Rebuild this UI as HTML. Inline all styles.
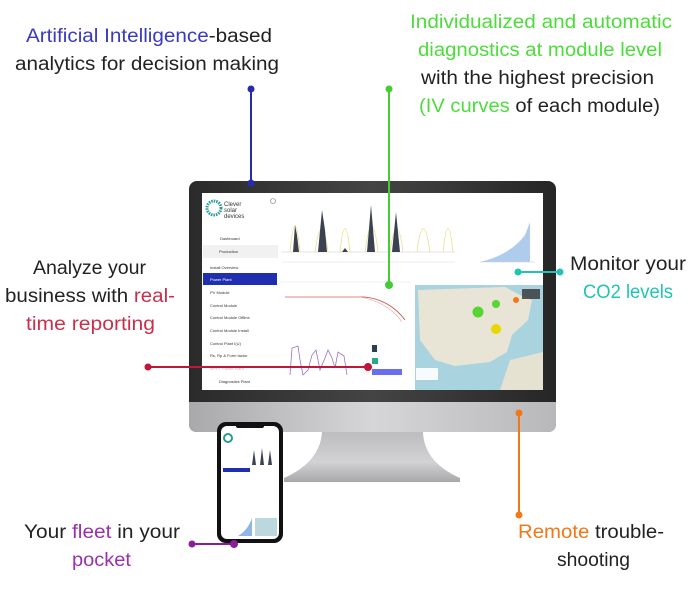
<!DOCTYPE html>
<html><head><meta charset="utf-8"><style>
html,body{margin:0;padding:0;background:#fff;width:700px;height:599px;overflow:hidden}
svg{display:block}
text{font-family:"Liberation Sans",sans-serif;font-size:19px;fill:#222}
.s text{font-size:4px;fill:#333}
.bl{fill:#3a3ac0}.gr{fill:#4ddc3c}.rd{fill:#c8304c}.tl{fill:#20c4b4}.pu{fill:#9a30b0}.or{fill:#f07818}
</style></head><body>
<svg width="700" height="599" viewBox="0 0 700 599" xmlns="http://www.w3.org/2000/svg">
<defs>
<linearGradient id="chin" x1="0" x2="1"><stop offset="0" stop-color="#a9a9ab"/><stop offset="0.5" stop-color="#d6d6d8"/><stop offset="1" stop-color="#b8b8ba"/></linearGradient>
<linearGradient id="bez" x1="0" x2="1"><stop offset="0" stop-color="#2a2a2a"/><stop offset="0.5" stop-color="#444"/><stop offset="1" stop-color="#262626"/></linearGradient>
<linearGradient id="stand" x1="0" y1="0" x2="0" y2="1"><stop offset="0" stop-color="#bdbdbf"/><stop offset="0.6" stop-color="#d2d2d4"/><stop offset="1" stop-color="#a8a8aa"/></linearGradient>
</defs>
<path d="M322 432 L423 432 Q424 462 460 478 L460 482 L284 482 L284 478 Q320 462 322 432 Z" fill="url(#stand)"/>
<rect x="189" y="181" width="367" height="251" rx="8" fill="url(#bez)"/>
<path d="M189 402 H556 V424 Q556 432 548 432 H197 Q189 432 189 424 Z" fill="url(#chin)"/>
<rect x="202" y="193" width="341" height="197" fill="#fff"/>
<g class="s">
<circle cx="214" cy="208" r="7" fill="none" stroke="#2a9a9a" stroke-width="3" stroke-dasharray="1.5 1"/>
<text x="224" y="206" style="font-size:6px;fill:#333">Clever</text>
<text x="224" y="212" style="font-size:6px;fill:#333">solar</text>
<text x="224" y="218" style="font-size:6px;fill:#333">devices</text>
<circle cx="273" cy="201" r="2.5" fill="none" stroke="#777" stroke-width="0.6"/>
<text x="220" y="240">Dashboard</text>
<rect x="203" y="245" width="75" height="13" fill="#f1f1f1"/>
<text x="219" y="253">Production</text>
<text x="210" y="269">Install Overview</text>
<rect x="203" y="273" width="74" height="12" fill="#1f2fb0"/>
<text x="210" y="281" style="fill:#fff">Power Plant</text>
<text x="210" y="294">PV Module</text>
<text x="210" y="307">Control Module</text>
<text x="210" y="319">Control Module Offline</text>
<text x="210" y="332">Control Module Install</text>
<text x="210" y="345">Control Plant I(U)</text>
<text x="210" y="357">Rs, Rp &amp; Form factor</text>
<text x="210" y="370" style="fill:#bbb">MPPT Power Plant</text>
<text x="219" y="383">Diagnostics Plant</text>
</g>
<g>
<line x1="282" y1="252" x2="455" y2="252" stroke="#ccc" stroke-width="0.5"/>
<path d="M290 252 Q295 200 300 252 M315 252 Q322 205 328 252 M340 252 Q345 205 350 252 M365 252 Q372 200 378 252 M390 252 Q397 205 403 252 M417 252 Q423 205 430 252 M443 252 Q448 205 453 252" fill="none" stroke="#e8de8a" stroke-width="0.8"/>
<path d="M293 252 L295 225 L297 235 L299 252 Z M318 252 L322 210 L325 230 L327 252 Z M367 252 L371 205 L375 252 Z M392 252 L396 212 L400 252 Z M342 252 L345 248 L348 252 Z" fill="#3a4150"/>
<line x1="282" y1="262" x2="455" y2="262" stroke="#ddd" stroke-width="0.5"/>
</g>
<path d="M480 262 Q510 255 525 235 L530 222 L530 262 Z" fill="#8fb6e6" opacity="0.7"/>
<line x1="480" y1="262" x2="535" y2="262" stroke="#ccc" stroke-width="0.5"/>
<path d="M285 297 L365 297 Q390 300 405 320" fill="none" stroke="#cc4433" stroke-width="0.8"/>
<path d="M285 297 L360 297 Q388 302 402 322" fill="none" stroke="#e0a0a0" stroke-width="0.6"/>
<line x1="280" y1="282" x2="412" y2="282" stroke="#e6e6e6" stroke-width="0.5"/>
<path d="M290 375 L292 348 L298 346 L300 360 L303 375 L308 370 L312 355 L316 350 L320 370 L325 358 L328 350 L332 358 L335 368 L338 352 L344 356 L347 375" fill="none" stroke="#a070c0" stroke-width="0.8"/>
<rect x="372" y="345" width="5" height="7" fill="#2c3e50"/>
<rect x="372" y="358" width="6" height="6" fill="#2aa888"/>
<rect x="372" y="369" width="30" height="6" fill="#6a6ef0"/>
<rect x="415" y="285" width="128" height="105" fill="#a9d3de"/>
<path d="M418 290 L505 287 L520 295 L532 300 L528 320 L512 335 L507 352 L490 362 L455 366 L435 360 L420 340 Z" fill="#e9e5d6"/>
<path d="M510 360 L543 352 L543 390 L500 390 Z" fill="#e6e2d2"/>
<rect x="416" y="368" width="22" height="12" fill="#fff" opacity="0.9"/>
<circle cx="478" cy="312" r="5.5" fill="#55d633"/>
<circle cx="496" cy="304" r="4" fill="#55d633"/>
<circle cx="516" cy="300" r="3" fill="#f07818"/>
<circle cx="496" cy="329" r="5" fill="#e8d800"/>
<rect x="522" y="289" width="18" height="10" fill="#333" opacity="0.8"/>
<rect x="217" y="422" width="66" height="121" rx="9" fill="#111"/>
<rect x="221" y="426" width="58" height="113" rx="6" fill="#fff"/>
<rect x="236" y="423" width="28" height="5" rx="2" fill="#111"/>
<circle cx="228" cy="438" r="4" fill="none" stroke="#2a9a9a" stroke-width="2"/>
<rect x="223" y="468" width="27" height="4" fill="#1f2fb0"/>
<path d="M252 465 L254 450 L256 465 M260 465 L262 448 L264 465 M268 465 L270 450 L272 465" fill="#3a4150"/>
<rect x="255" y="518" width="22" height="18" fill="#bcd8de"/>
<path d="M238 536 Q248 530 252 518 L252 536 Z" fill="#8fb6e6"/>
<g stroke-width="2">
<line x1="251" y1="89" x2="251" y2="183" stroke="#2a2ab0"/>
<line x1="389" y1="89" x2="389" y2="285" stroke="#44cc33"/>
<line x1="518" y1="272" x2="560" y2="272" stroke="#20c4b4"/>
<line x1="148" y1="367" x2="368" y2="367" stroke="#c0163c"/>
<line x1="519" y1="413" x2="519" y2="515" stroke="#f07818"/>
<line x1="192" y1="544" x2="234" y2="544" stroke="#8a1e9a"/>
</g>
<circle cx="251" cy="89" r="3.5" fill="#2a2ab0"/><circle cx="251" cy="183" r="3.5" fill="#2a2ab0"/>
<circle cx="389" cy="89" r="3.5" fill="#44cc33"/><circle cx="389" cy="285" r="4" fill="#44cc33"/>
<circle cx="518" cy="272" r="3.5" fill="#20c4b4"/><circle cx="560" cy="272" r="3.5" fill="#20c4b4"/>
<circle cx="148" cy="367" r="3.5" fill="#c0163c"/><circle cx="368" cy="367" r="4" fill="#c0163c"/>
<circle cx="519" cy="413" r="3.5" fill="#f07818"/><circle cx="519" cy="515" r="3.5" fill="#f07818"/>
<circle cx="192" cy="544" r="3.5" fill="#8a1e9a"/><circle cx="234" cy="544" r="4" fill="#8a1e9a"/>
<text x="26" y="42" textLength="246" lengthAdjust="spacingAndGlyphs"><tspan class="bl">Artificial Intelligence</tspan>-based</text>
<text x="15" y="70" textLength="264" lengthAdjust="spacingAndGlyphs">analytics for decision making</text>
<text x="410" y="28" textLength="262" lengthAdjust="spacingAndGlyphs" class="gr">Individualized and automatic</text>
<text x="418" y="56" textLength="244" lengthAdjust="spacingAndGlyphs" class="gr">diagnostics at module level</text>
<text x="421" y="84" textLength="233" lengthAdjust="spacingAndGlyphs">with the highest precision</text>
<text x="419" y="112" textLength="241" lengthAdjust="spacingAndGlyphs"><tspan class="gr">(IV curves</tspan> of each module)</text>
<text x="33" y="274" textLength="113" lengthAdjust="spacingAndGlyphs">Analyze your</text>
<text x="5" y="302" textLength="170" lengthAdjust="spacingAndGlyphs">business with <tspan class="rd">real-</tspan></text>
<text x="26" y="330" textLength="129" lengthAdjust="spacingAndGlyphs" class="rd">time reporting</text>
<text x="570" y="270" textLength="116" lengthAdjust="spacingAndGlyphs">Monitor your</text>
<text x="583" y="298" textLength="90" lengthAdjust="spacingAndGlyphs" class="tl">CO2 levels</text>
<text x="24" y="538" textLength="156" lengthAdjust="spacingAndGlyphs">Your <tspan class="pu">fleet</tspan> in your</text>
<text x="72" y="566" textLength="59" lengthAdjust="spacingAndGlyphs" class="pu">pocket</text>
<text x="518" y="538" textLength="146" lengthAdjust="spacingAndGlyphs"><tspan class="or">Remote</tspan> trouble-</text>
<text x="557" y="566" textLength="73" lengthAdjust="spacingAndGlyphs">shooting</text>
</svg>
</body></html>
